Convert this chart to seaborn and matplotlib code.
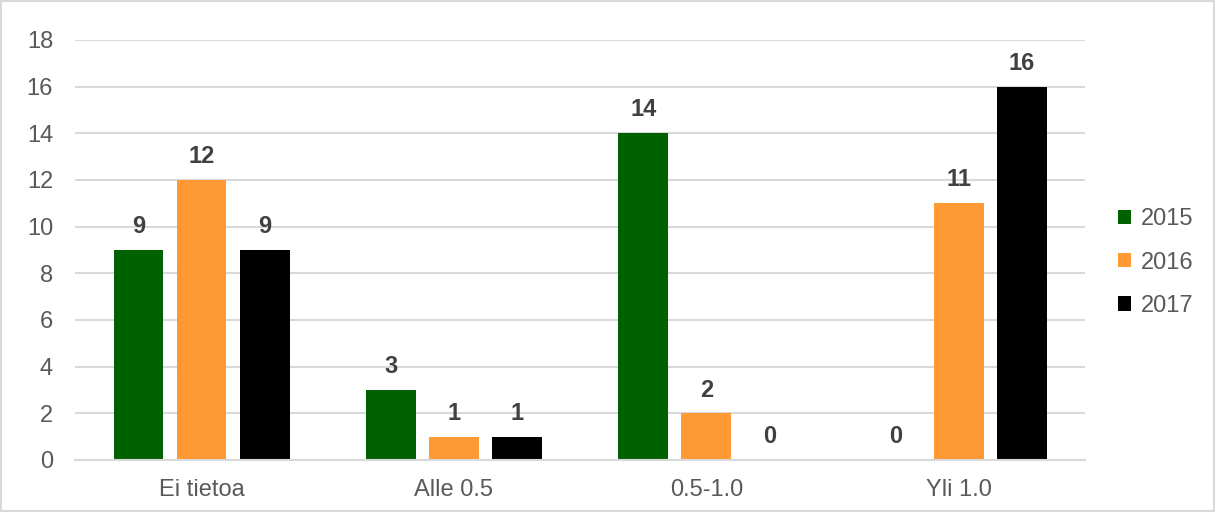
import matplotlib
matplotlib.use("Agg")
import matplotlib.pyplot as plt
import seaborn as sns
import pandas as pd

# Datos
categorias = ["Ei tietoa", "Alle 0.5", "0.5-1.0", "Yli 1.0"]
anios = ["2015", "2016", "2017"]
valores_2015 = [9, 3, 14, 0]
valores_2016 = [12, 1, 2, 11]
valores_2017 = [9, 1, 0, 16]
colores = ["#006100", "#ff9933", "#000000"]

df = pd.DataFrame({
    "categoria": categorias * 3,
    "anio": [a for a in anios for _ in categorias],
    "valor": valores_2015 + valores_2016 + valores_2017,
})

sns.set_style("white")
plt.rcParams["font.family"] = ["Liberation Sans", "DejaVu Sans"]

fig = plt.figure(figsize=(12.15, 5.12), dpi=100)
ax = fig.add_axes([0.062, 0.1016, 0.831, 0.8204])

sns.barplot(data=df, x="categoria", y="valor", hue="anio", order=categorias,
            hue_order=anios, palette=colores, width=0.75, gap=0.21,
            saturation=1, linewidth=0, ax=ax, errorbar=None)

for cont in ax.containers:
    ax.bar_label(cont, fmt="%d", padding=8.5, fontsize=17, fontweight="bold",
                 color="#404040")

ax.set_xlim(-0.5, 3.5)
ax.set_ylim(0, 18)
ax.set_yticks(range(0, 19, 2))
ax.yaxis.grid(True, color="#d9d9d9", linewidth=1.5)
ax.set_axisbelow(True)
for lado in ["left", "right", "top"]:
    ax.spines[lado].set_visible(False)
ax.spines["bottom"].set_color("#d9d9d9")
ax.spines["bottom"].set_linewidth(1.5)
ax.tick_params(axis="both", length=0, labelsize=17, colors="#595959")
ax.tick_params(axis="y", pad=16)
ax.tick_params(axis="x", pad=14)
ax.set_xlabel("")
ax.set_ylabel("")

ax.legend(loc="center left", bbox_to_anchor=(1.012, 0.47), frameon=False,
          fontsize=17, labelcolor="#595959", handlelength=0.55,
          handleheight=0.55, handletextpad=0.4, labelspacing=0.9)

# Borde de la figura
fig.patches.append(plt.Rectangle((0.001, 0.002), 0.998, 0.996,
                                 transform=fig.transFigure, fill=False,
                                 edgecolor="#d9d9d9", linewidth=1.5))

fig.savefig("out.png", dpi=100)
